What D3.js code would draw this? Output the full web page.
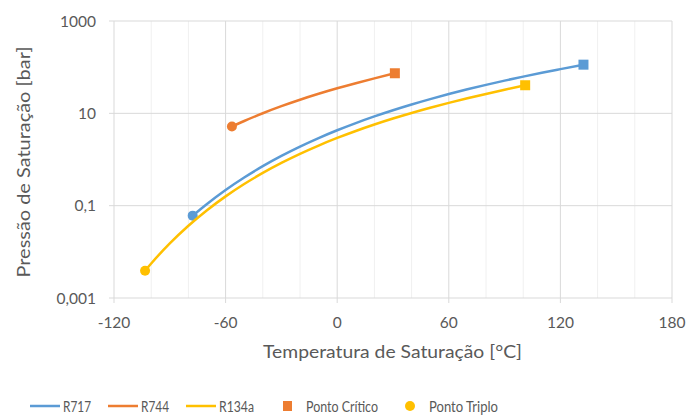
<!DOCTYPE html>
<html><head><meta charset="utf-8">
<script src="https://cdn.jsdelivr.net/npm/d3@7"></script>
<style>body{margin:0;background:#fff}text{font-family:Lato,"Open Sans",sans-serif;fill:#595959}</style>
</head><body><svg id="c" width="688" height="415"></svg>
<script>
// Data
const r717T = [-77.7,-70,-60,-50,-40,-30,-20,-10,0,10,20,30,40,50,60,70,80,90,100,110,120,132.4];
const r717P = [0.0608,0.109,0.219,0.408,0.717,1.195,1.901,2.908,4.294,6.149,8.575,11.67,15.55,20.33,26.15,33.12,41.40,51.13,62.47,75.59,90.71,113.3];
const r744T = [-56.6,-50,-40,-30,-20,-10,0,10,20,31.0];
const r744P = [5.18,6.82,10.05,14.28,19.70,26.49,34.85,45.02,57.29,73.8];
const r134aT = [-103.3,-100,-90,-80,-70,-60,-50,-40,-30,-20,-10,0,10,20,30,40,50,60,70,80,90,101.06];
const r134aP = [0.0039,0.0056,0.0152,0.0367,0.0798,0.1591,0.2945,0.5121,0.8438,1.327,2.006,2.928,4.146,5.717,7.702,10.17,13.18,16.82,21.17,26.33,32.44,40.59];
const seriesNames = ["R717","R744","R134a"];
const seriesColors = ["#5B9BD5","#ED7D31","#FFC000"];
const xTicks = [-120,-60,0,60,120,180];
const xMinorTicks = [-100,-80,-40,-20,20,40,80,100,140,160];
const yTicks = [0.001,0.1,10,1000];
const yTickLabels = ["0,001","0,1","10","1000"];
const xTitle = "Temperatura de Saturação [°C]";
const yTitle = "Pressão de Saturação [bar]";
const legendMarkers = ["Ponto Crítico","Ponto Triplo"];

const svg = d3.select("#c");
const x = d3.scaleLinear().domain([-120,180]).range([114,672]);
const y = d3.scaleLog().domain([0.001,1000]).range([298,21]);

// grid
const g = svg.append("g");
g.selectAll(".mn").data(xMinorTicks).join("line")
  .attr("x1",d=>x(d)).attr("x2",d=>x(d)).attr("y1",y(1000)).attr("y2",y(0.001))
  .attr("stroke","#F0F0F0").attr("stroke-width",1);
g.selectAll(".mj").data(xTicks).join("line")
  .attr("x1",d=>x(d)).attr("x2",d=>x(d)).attr("y1",y(1000)).attr("y2",y(0.001)+5)
  .attr("stroke","#D9D9D9").attr("stroke-width",1);
g.selectAll(".hy").data(yTicks).join("line")
  .attr("x1",x(-120)-5).attr("x2",x(180)).attr("y1",d=>y(d)).attr("y2",d=>y(d))
  .attr("stroke","#D9D9D9").attr("stroke-width",1);

// tick labels
svg.selectAll(".xl").data(xTicks).join("text")
  .attr("x",d=>x(d)).attr("y",y(0.001)+30).attr("text-anchor","middle")
  .attr("font-size",15.5).text(d=>d);
svg.selectAll(".yl").data(yTicks).join("text")
  .attr("x",x(-120)-18).attr("y",d=>y(d)+5.5).attr("text-anchor","end")
  .attr("font-size",15.5).text((d,i)=>yTickLabels[i]);

// titles
svg.append("text").attr("x",392.5).attr("y",358).attr("text-anchor","middle")
  .attr("font-size",17.5).attr("textLength",259).attr("lengthAdjust","spacingAndGlyphs").text(xTitle);
svg.append("text").attr("transform","translate(30,162) rotate(-90)").attr("text-anchor","middle")
  .attr("font-size",17.5).attr("textLength",231).attr("lengthAdjust","spacingAndGlyphs").text(yTitle);

// lines
const data = [[r717T,r717P],[r744T,r744P],[r134aT,r134aP]];
const line = d3.line().x(d=>x(d[0])).y(d=>y(d[1])).curve(d3.curveMonotoneX);
data.forEach(([T,P],i)=>{
  const pts = T.map((t,j)=>[t,P[j]]);
  svg.append("path").datum(pts).attr("d",line).attr("fill","none")
    .attr("stroke",seriesColors[i]).attr("stroke-width",2.5);
  svg.append("circle").attr("cx",x(T[0])).attr("cy",y(P[0])).attr("r",5).attr("fill",seriesColors[i]);
  svg.append("rect").attr("x",x(T[T.length-1])-5).attr("y",y(P[P.length-1])-5)
    .attr("width",10).attr("height",10).attr("fill",seriesColors[i]);
});

// legend
const ly = 406;
const lx = [30,108,186];
const lw = [28,28,35];
const fs = 14.5;
seriesNames.forEach((n,i)=>{
  svg.append("line").attr("x1",lx[i]).attr("x2",lx[i]+30).attr("y1",ly).attr("y2",ly)
    .attr("stroke",seriesColors[i]).attr("stroke-width",2.5);
  svg.append("text").attr("x",lx[i]+33).attr("y",ly+5.5).attr("font-size",fs)
    .attr("textLength",lw[i]).attr("lengthAdjust","spacingAndGlyphs").text(n);
});
svg.append("rect").attr("x",283).attr("y",ly-5).attr("width",9).attr("height",10).attr("fill","#ED7D31");
svg.append("text").attr("x",306).attr("y",ly+5.5).attr("font-size",fs)
  .attr("textLength",72).attr("lengthAdjust","spacingAndGlyphs").text(legendMarkers[0]);
svg.append("circle").attr("cx",410).attr("cy",ly).attr("r",5).attr("fill","#FFC000");
svg.append("text").attr("x",429).attr("y",ly+5.5).attr("font-size",fs)
  .attr("textLength",69).attr("lengthAdjust","spacingAndGlyphs").text(legendMarkers[1]);
</script></body></html>
